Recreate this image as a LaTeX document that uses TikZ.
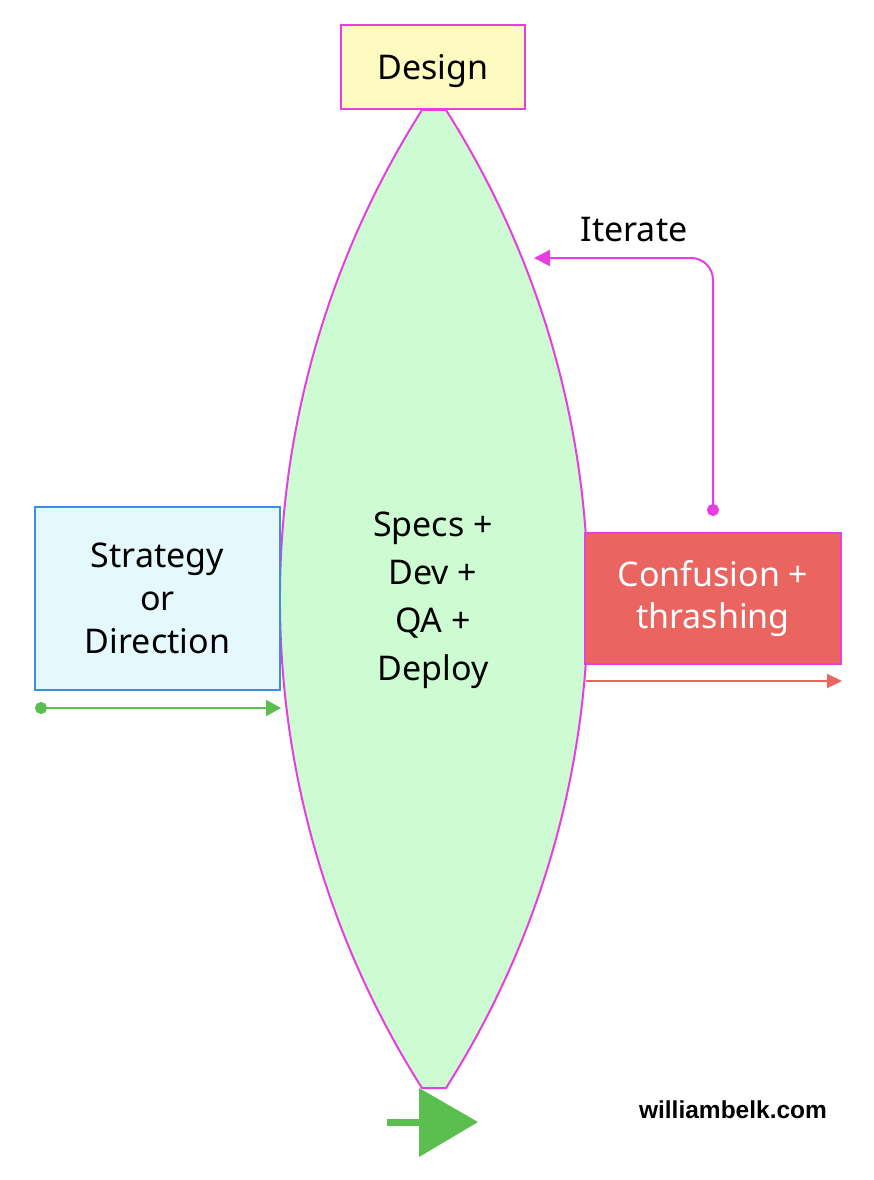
\documentclass[tikz,border=0pt]{standalone}
\usepackage{fontspec}
\setmainfont{Noto Sans}
\newfontfamily\wmfont{Liberation Sans}
\usetikzlibrary{arrows.meta}
\definecolor{mag}{HTML}{E83DE0}
\definecolor{lensgreen}{HTML}{CDFCD3}
\definecolor{designyellow}{HTML}{FEFBC0}
\definecolor{stratblue}{HTML}{E5F8FC}
\definecolor{stratborder}{HTML}{3A8FE0}
\definecolor{confred}{HTML}{EB6560}
\definecolor{arrowgreen}{HTML}{5BBF4F}
\tikzset{
  box/.style={draw, line width=2pt, inner sep=0pt, align=center, font=\fontsize{34}{43}\selectfont},
  lensline/.style={draw=mag, line width=2pt, fill=lensgreen},
}
\begin{document}
\begin{tikzpicture}[x=1pt,y=-1pt]
\useasboundingbox[fill=white] (0,0) rectangle (874,1180);
% lens
\path[lensline] (422,110) .. controls (232.6,408.6) and (232.6,789.4) .. (422,1088)
  -- (446,1088) .. controls (635.4,789.4) and (635.4,408.6) .. (446,110) -- cycle;
\node[align=center, font=\fontsize{34}{48}\selectfont] (core) at (433,600) {Specs +\\Dev +\\QA +\\Deploy};
% boxes
\node[box, draw=mag, fill=designyellow, minimum width=184pt, minimum height=84pt, text depth=0pt] (design) at (433,67) {Design};
\node[box, draw=stratborder, fill=stratblue, minimum width=245pt, minimum height=183pt] (strat) at (157.5,598.5) {Strategy\\or\\Direction};
\node[box, draw=mag, fill=confred, text=white, font=\fontsize{34}{42}\selectfont, minimum width=256pt, minimum height=131pt] (conf) at (713,598.5) {Confusion +\\thrashing};
% left green arrow
\coordinate (gs) at (35,708);
\coordinate (ge) at (281,708);
\draw[arrowgreen, line width=2pt, {Circle[length=12pt]}-{Triangle[length=15pt,width=16pt]}] (gs) -- (ge);
% red arrow
\coordinate (rs) at (586,681);
\coordinate (re) at (842,681);
\draw[confred, line width=2pt, -{Triangle[length=15pt,width=14pt]}] (rs) -- (re);
% iterate arrow
\coordinate (is) at (713,516);
\coordinate (ie) at (534,258);
\draw[mag, line width=2pt, rounded corners=22pt, {Circle[length=12pt]}-{Triangle[length=16pt,width=16pt]}] (is) |- (ie);
\node[font=\fontsize{34}{34}\selectfont] (iter) at (634,230) {Iterate};
% bottom big arrow
\coordinate (bs) at (387,1122);
\coordinate (bt) at (478,1122);
\fill[arrowgreen] (bs) ++(0,-3.5) rectangle (421,1125.5);
\fill[arrowgreen] (419,1088) -- (bt) -- (419,1157) -- cycle;
% watermark
\node[font=\wmfont\bfseries\fontsize{24.5}{28}\selectfont] (wm) at (733,1110) {williambelk.com};
\end{tikzpicture}
\end{document}
